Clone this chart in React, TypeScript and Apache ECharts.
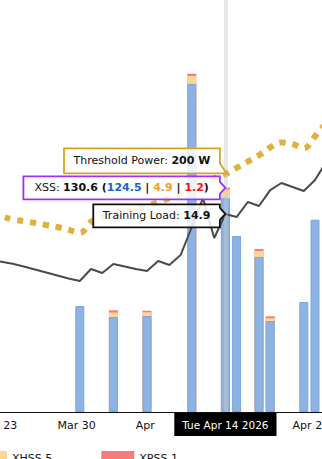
import React, { useEffect, useRef } from 'react';
import * as echarts from 'echarts';

const FONT = '"DejaVu Sans", Verdana, sans-serif';
const DAY = 86400000;

// x axis: days counted from this date, one tick a week (Apr 13 sits under the pointer label)
const START_DATE = '2026-03-23';
const AXIS_DAYS = 35;
const xTickLabels = ['Mar 23', 'Mar 30', 'Apr', '', 'Apr 20', 'Apr 27'];

// daily line series, starting at START_DATE
const trainingLoad = [
  11.6, 11.45, 11.3, 11.15, 10.95, 10.72, 10.5, 10.27, 10.04, 9.86,
  10.76, 10.46, 11.14, 10.95, 10.76, 10.61, 11.36, 11.06, 11.81, 13.92,
  16.1, 13.09, 14.9, 14.67, 15.8, 15.5, 16.7, 17.23, 16.93, 16.63,
  17.46, 18.81, 19.3,
];
const thresholdPower = [
  195.1, 195.0, 194.7, 194.3, 194.1, 193.85, 193.6, 193.35, 193.0, 192.6,
  194.0, 194.5, 194.9, 195.2, 195.6, 196.0, 196.5, 197.0, 197.5, 198.0,
  198.8, 199.5, 200, 200.8, 201.6, 202.4, 203.4, 204.0, 203.8, 203.3,
  204.8, 206.4, 207.5,
];

// activity bars (XSS split)
const barDates = [
  '2026-04-01', '2026-04-04', '2026-04-07', '2026-04-11', '2026-04-14',
  '2026-04-15', '2026-04-17', '2026-04-18', '2026-04-21', '2026-04-22',
];
const xlss = [61.7, 55.3, 55.9, 191.1, 124.5, 102.5, 90.3, 53.0, 64.1, 112];
const xhss = [0, 2.7, 2.2, 4.7, 4.9, 0, 3.5, 1.6, 0, 0];
const xpss = [0, 1.2, 0.9, 1.2, 1.2, 0, 1.2, 1.2, 0, 0];

const legendCounts: Record<string, number> = { XHSS: 5, XPSS: 1 };
const FOCUS_DATE = '2026-04-14';

const WEEKDAYS = ['Sun', 'Mon', 'Tue', 'Wed', 'Thu', 'Fri', 'Sat'];
const MONTHS = ['Jan', 'Feb', 'Mar', 'Apr', 'May', 'Jun', 'Jul', 'Aug', 'Sep', 'Oct', 'Nov', 'Dec'];

const dayIndex = (s: string) => Math.round((Date.parse(s) - Date.parse(START_DATE)) / DAY);
const fmtDate = (d: number) => {
  const dt = new Date(Date.parse(START_DATE) + Math.round(d) * DAY);
  return `${WEEKDAYS[dt.getUTCDay()]} ${MONTHS[dt.getUTCMonth()]} ${dt.getUTCDate()} ${dt.getUTCFullYear()}`;
};

const W = 322;
const H = 459;
const DAY_PX = 11.2;
const GRID_LEFT = -21;
const GRID_RIGHT = W - (GRID_LEFT + AXIS_DAYS * DAY_PX);

type Part = { t: string; b?: boolean; c?: string };

export default function App() {
  const ref = useRef<HTMLDivElement>(null);
  useEffect(() => {
    if (!ref.current) return;
    const chart = echarts.init(ref.current, null, { renderer: 'svg' });
    const barX = barDates.map(dayIndex);
    const fx = dayIndex(FOCUS_DATE);
    // stacked heights (drawn as overlapping bars: top segment first, base last)
    const cumHigh = xlss.map((v, i) => v + xhss[i]);
    const cumPeak = cumHigh.map((v, i) => v + xpss[i]);
    const barBase: any = { type: 'bar', barWidth: 9, barGap: '-100%', yAxisIndex: 0 };
    const option: any = {
      animation: false,
      textStyle: { fontFamily: FONT },
      grid: {
        left: GRID_LEFT, right: GRID_RIGHT, top: 0, bottom: 47,
        containLabel: false, outerBoundsMode: 'none',
      },
      legend: {
        data: ['XHSS', 'XPSS'],
        left: -31,
        top: 446,
        icon: 'rect',
        itemWidth: 33,
        itemHeight: 14,
        itemGap: 49,
        formatter: (n: string) => `${n} ${legendCounts[n]}`,
        textStyle: { fontSize: 11, color: '#111', fontFamily: FONT },
      },
      xAxis: {
        type: 'value',
        min: 0,
        max: AXIS_DAYS,
        interval: 7,
        axisLine: { show: true, onZero: false, lineStyle: { color: '#111', width: 1 } },
        axisTick: { show: false },
        splitLine: { show: false },
        axisLabel: {
          formatter: (v: number) => xTickLabels[Math.round(v / 7)] ?? '',
          align: 'left',
          margin: 8,
          color: '#111',
          fontSize: 11,
          fontFamily: FONT,
        },
        axisPointer: {
          show: true,
          status: 'show',
          value: fx,
          snap: false,
          triggerTooltip: false,
          type: 'line',
          lineStyle: { color: 'rgba(200,200,200,0.45)', width: 4, type: 'solid' },
          label: {
            show: true,
            formatter: (p: any) => fmtDate(p.value),
            backgroundColor: '#000',
            color: '#fff',
            fontSize: 10.5,
            fontFamily: FONT,
            padding: [6, 8],
            margin: 1,
            borderRadius: 0,
          },
        },
      },
      yAxis: [
        { type: 'value', min: 0, max: 240, show: false, splitLine: { show: false } },
        { type: 'value', min: 0, max: 31, show: false, splitLine: { show: false } },
        { type: 'value', min: 170, max: 222, show: false, splitLine: { show: false } },
      ],
      series: [
        {
          ...barBase, name: 'XPSS',
          data: barX.map((x, i) => [x, xpss[i] > 0 ? cumPeak[i] : null]),
          itemStyle: { color: '#f87c7c' },
        },
        {
          ...barBase, name: 'XHSS',
          data: barX.map((x, i) => [x, xhss[i] > 0 ? cumHigh[i] : null]),
          itemStyle: { color: '#fdd596' },
        },
        {
          ...barBase, name: 'XLSS',
          data: barX.map((x, i) => [x, xlss[i]]),
          itemStyle: { color: '#8db3e2', borderColor: '#78a7df', borderWidth: 1 },
        },
        {
          name: 'Training Load', type: 'line', yAxisIndex: 1, z: 4,
          data: trainingLoad.map((v, i) => [i, v]),
          symbol: 'none', showSymbol: false,
          lineStyle: { color: '#4a4a4a', width: 2 },
        },
        {
          name: 'Threshold Power', type: 'line', yAxisIndex: 2, z: 3,
          data: thresholdPower.map((v, i) => [i, v]),
          symbol: 'none', showSymbol: false, smooth: 0.4,
          lineStyle: { color: '#e0b13e', width: 6, type: [6, 7], cap: 'butt' },
        },
      ],
    };
    chart.setOption(option);

    // callouts (split tooltip) anchored at the focus date
    const fi = barDates.indexOf(FOCUS_DATE);
    const lo = xlss[fi], hi = xhss[fi], pk = xpss[fi];
    const total = Math.round((lo + hi + pk) * 10) / 10;
    const tl = trainingLoad[fx];
    const th = thresholdPower[fx];
    const canvas = document.createElement('canvas').getContext('2d')!;
    const measure = (parts: Part[]) =>
      parts.reduce((w, p) => {
        canvas.font = `${p.b ? 'bold ' : ''}11px ${FONT}`;
        return w + canvas.measureText(p.t).width;
      }, 0);
    const defs = [
      {
        yAxisIndex: 2, value: th, stroke: '#d9a31f', h: 25, pad: 9.5,
        parts: [{ t: 'Threshold Power: ' }, { t: `${th} W`, b: true }] as Part[],
      },
      {
        yAxisIndex: 0, value: total, stroke: '#9b30ff', h: 23, pad: 11,
        parts: [
          { t: 'XSS: ' }, { t: `${total.toFixed(1)} (`, b: true },
          { t: lo.toFixed(1), b: true, c: '#1a66c8' }, { t: ' | ', b: true },
          { t: hi.toFixed(1), b: true, c: '#f5a020' }, { t: ' | ', b: true },
          { t: pk.toFixed(1), b: true, c: '#ff1010' }, { t: ')', b: true },
        ] as Part[],
      },
      {
        yAxisIndex: 1, value: tl, stroke: '#111', h: 23, pad: 9.5,
        parts: [{ t: 'Training Load: ' }, { t: `${tl}`, b: true }] as Part[],
      },
    ];
    const anchors = defs.map((d) =>
      chart.convertToPixel({ xAxisIndex: 0, yAxisIndex: d.yAxisIndex } as any, [fx, d.value]) as number[]
    );
    const centers: number[] = new Array(defs.length);
    let limit = Infinity;
    for (let i = defs.length - 1; i >= 0; i--) {
      const want = anchors[i][1] + (i === defs.length - 1 ? 2 : 0);
      const c = Math.min(want, limit - defs[i].h / 2);
      centers[i] = c;
      limit = c - defs[i].h / 2 - 3;
    }
    const elements: any[] = [];
    defs.forEach((d, i) => {
      const [ax, ay] = anchors[i];
      const tw = measure(d.parts);
      const R = ax - 5.5;
      const L = R - tw - 2 * d.pad;
      const T = centers[i] - d.h / 2;
      const B = centers[i] + d.h / 2;
      let pts: number[][];
      if (ay >= B - 6) {
        pts = [[L, T], [R, T], [R, B - 10], [ax + 1, B], [L, B]];
      } else if (ay <= T + 6) {
        pts = [[L, T], [ax + 1, T], [R, T + 10], [R, B], [L, B]];
      } else {
        pts = [[L, T], [R, T], [R, ay - 6], [ax, ay], [R, ay + 6], [R, B], [L, B]];
      }
      elements.push({
        type: 'polygon', z: 100,
        shape: { points: pts },
        style: { fill: 'rgba(255,255,255,0.85)', stroke: d.stroke, lineWidth: 1.8 },
      });
      const rich: any = {};
      d.parts.forEach((p, k) => {
        rich[`s${k}`] = { fontSize: 11, fontFamily: FONT, fontWeight: p.b ? 'bold' : 'normal', fill: p.c || '#111' };
      });
      elements.push({
        type: 'text', z: 101,
        x: L + d.pad, y: centers[i],
        style: {
          text: d.parts.map((p, k) => `{s${k}|${p.t}}`).join(''),
          rich, fontSize: 11, fontFamily: FONT, fill: '#111',
          align: 'left', verticalAlign: 'middle',
        },
      });
    });
    chart.setOption({ graphic: { elements } });
    return () => chart.dispose();
  }, []);
  return (
    <div
      ref={ref}
      style={{ position: 'fixed', left: 0, top: 0, width: W, height: H, background: '#fff' }}
    />
  );
}
